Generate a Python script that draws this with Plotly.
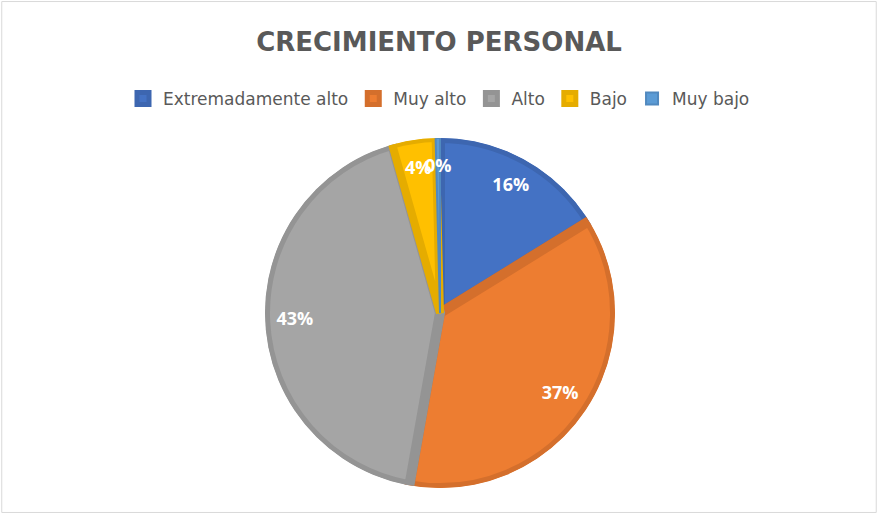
import plotly.graph_objects as go

categories = ["Extremadamente alto", "Muy alto", "Alto", "Bajo", "Muy bajo"]
values = [16.2, 36.6, 42.8, 4.0, 0.4]
fill_colors = ["#4472C4", "#ED7D31", "#A5A5A5", "#FFC000", "#5B9BD5"]
edge_colors = ["#3D66B0", "#D46F2C", "#949494", "#E5AC00", "#5189BF"]
edge_widths = [10, 10, 10, 8, 2]

W, H = 878, 514
cx, cy, r = 440, 313, 175
dom = dict(x=[(cx - r) / W, (cx + r) / W], y=[1 - (cy + r) / H, 1 - (cy - r) / H])

total = sum(values)
label_text = [f"{v / total:.0%}" for v in values]
mid_theta, widths = [], []
acc = 0.0
for v in values:
    mid_theta.append((acc + v / 2) / total * 360)
    widths.append(v / total * 360)
    acc += v

fig = go.Figure()
for cat, th, wd, fc, ec, lw in zip(categories, mid_theta, widths, fill_colors, edge_colors, edge_widths):
    fig.add_trace(go.Barpolar(
        r=[1], theta=[th], width=[wd], base=0, name=cat,
        marker=dict(color=fc, line=dict(color=ec, width=lw)),
        hovertemplate=cat + "<extra></extra>",
    ))
fig.add_trace(go.Scatterpolar(
    r=[0.83] * len(values),
    theta=mid_theta,
    mode="text",
    text=label_text,
    textposition="middle center",
    textfont=dict(family="Open Sans", size=18, color="white", weight="bold"),
    showlegend=False,
    hoverinfo="skip",
))

fig.update_layout(
    width=W, height=H,
    margin=dict(l=0, r=0, t=0, b=0),
    paper_bgcolor="white",
    polar=dict(
        domain=dom,
        bgcolor="rgba(0,0,0,0)",
        bargap=0,
        radialaxis=dict(range=[0, 1], visible=False),
        angularaxis=dict(rotation=90, direction="clockwise", visible=False),
    ),
    title=dict(text="<b>CRECIMIENTO PERSONAL</b>", x=0.5, xanchor="center",
               y=1 - 42 / H, yanchor="middle",
               font=dict(family="DejaVu Sans", size=26, color="#595959")),
    legend=dict(orientation="h", x=0.5, xanchor="center", y=1 - 99 / H, yanchor="middle",
                font=dict(family="DejaVu Sans", size=17, color="#595959"),
                traceorder="normal", itemclick=False),
    shapes=[dict(type="rect", xref="paper", yref="paper", x0=0.002, x1=0.998, y0=0.003, y1=0.997,
                 line=dict(color="#D9D9D9", width=1))],
)

fig.write_html("out.html", config={"displayModeBar": False},
               post_script="document.body.style.margin='0';")
